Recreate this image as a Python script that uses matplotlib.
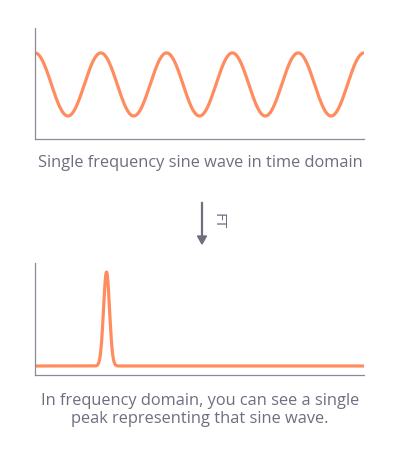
import numpy as np
import matplotlib.pyplot as plt

# signal parameters
n_cycles = 5            # cycles visible in the time window
time_span = (0, 5)
freq_span = (0, 23)
peak_freq = 5
peak_height = 1.0
peak_width = 0.21

top_caption = "Single frequency sine wave in time domain"
bottom_caption = "In frequency domain, you can see a single\npeak representing that sine wave."
arrow_label = "FT"

orange = "#ff8c5f"
grey_text = "#6e6e80"
grey_axis = "#8a8a9a"

plt.rcParams['font.family'] = ['Open Sans', 'DejaVu Sans']

W, H = 400, 450
fig = plt.figure(figsize=(4, 4.5), dpi=100)


def px_axes(x0, y0, x1, y1):
    return fig.add_axes([x0 / W, 1 - y1 / H, (x1 - x0) / W, (y1 - y0) / H])


# time domain
t = np.linspace(*time_span, 1000)
ax1 = px_axes(35, 28, 364, 139)
ax1.plot(t, np.cos(2 * np.pi * n_cycles * t / (time_span[1] - time_span[0])),
         color=orange, lw=2.3, solid_capstyle='round')
ax1.set_xlim(*time_span)
ax1.set_ylim(-1.73, 1.79)

# frequency domain
f = np.linspace(*freq_span, 2000)
ax2 = px_axes(35, 263, 364, 375)
ax2.plot(f, peak_height * np.exp(-0.5 * ((f - peak_freq) / peak_width) ** 2),
         color=orange, lw=2.3, solid_capstyle='round')
ax2.set_xlim(*freq_span)
ax2.set_ylim(-0.096, 1.096)

for ax in (ax1, ax2):
    ax.set_xticks([])
    ax.set_yticks([])
    for s in ('top', 'right'):
        ax.spines[s].set_visible(False)
    for s in ('left', 'bottom'):
        ax.spines[s].set_color(grey_axis)
        ax.spines[s].set_linewidth(0.9)
    ax.patch.set_alpha(0)

fig.text(200 / W, 1 - 163 / H, top_caption, ha='center', va='center',
         fontsize=11.8, color=grey_text, weight='medium')
fig.text(200 / W, 1 - 410 / H, bottom_caption, ha='center', va='center',
         fontsize=11.8, color=grey_text, linespacing=1.22, multialignment='center',
         weight='medium')

# FT arrow
fig.add_artist(plt.Line2D([202 / W, 202 / W], [1 - 203 / H, 1 - 238 / H],
                          color=grey_text, lw=1.6))
fig.patches.append(plt.Polygon([[197.5 / W, 1 - 236 / H], [206.5 / W, 1 - 236 / H],
                                [202 / W, 1 - 244 / H]], closed=True,
                               transform=fig.transFigure, color=grey_text))
fig.text(218 / W, 1 - 221 / H, arrow_label, rotation=270, ha='center', va='center',
         fontsize=11, color=grey_text, weight='medium')

fig.savefig("out.png", dpi=100)
